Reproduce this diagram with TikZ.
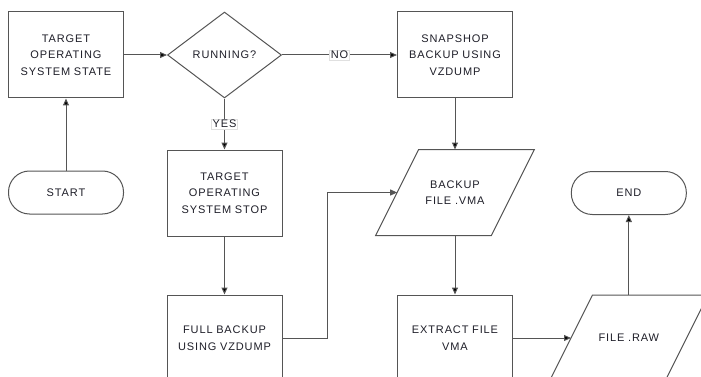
\documentclass[tikz,border=0pt]{standalone}
\usepackage{fontspec}
\setmainfont{Liberation Sans}
\usetikzlibrary{arrows.meta,positioning,shapes.geometric}

\definecolor{flowline}{RGB}{85,85,85}
\definecolor{flowtext}{RGB}{30,30,40}
\newcommand{\flowfont}{\fontsize{11}{16.5}\selectfont\addfontfeatures{LetterSpace=8}}
% slanted frame round an io node, 21.5pt lean each way
\newcommand{\ioframe}[1]{%
  \draw[io frame] ([xshift=21.5pt]#1.north west) -- ([xshift=21.5pt]#1.north east)
    -- ([xshift=-21.5pt]#1.south east) -- ([xshift=-21.5pt]#1.south west) -- cycle;}

\tikzset{
  shape base/.style={draw=flowline, line width=1pt, text=flowtext, font=\flowfont, align=center},
  process/.style={shape base, rectangle, minimum width=115pt, minimum height=86pt, text width=108pt},
  decision/.style={shape base, diamond, minimum width=114pt, minimum height=86pt, inner sep=0pt},
  io/.style={shape base, draw=none, rectangle, minimum width=114pt, minimum height=85pt, text width=108pt},
  io frame/.style={draw=flowline, line width=1pt, line join=miter},
  terminal/.style={shape base, rectangle, rounded corners=21pt, minimum width=115pt, minimum height=43pt},
  flow/.style={-{Triangle[length=7pt,width=6pt]}, draw=flowline, line width=1pt},
  tag/.style={fill=white, draw=black!12, line width=0.4pt, inner sep=1.2pt, text=flowtext, font=\flowfont}
}

\begin{document}
\begin{tikzpicture}
\useasboundingbox (0,0) rectangle (701pt,-377pt);
\clip (0,0) rectangle (701pt,-377pt);

\node[process] (state) at (66pt,-55pt) {TARGET\\OPERATING\\SYSTEM STATE};
\node[decision, right=43pt of state] (running) {RUNNING?};
\node[process, right=115pt of running] (snapshot) {SNAPSHOP\\BACKUP USING\\VZDUMP};
\node[terminal, below=72pt of state] (start) {START};
\node[process, below=51pt of running] (stop) {TARGET\\OPERATING\\SYSTEM STOP};
\node[process, below=58pt of stop] (fullbackup) {FULL BACKUP\\USING VZDUMP};
\node[io, below=51pt of snapshot] (vma) {BACKUP\\FILE .VMA};
\node[process, below=59pt of vma] (extract) {EXTRACT FILE\\VMA};
\node[io, right=58pt of extract] (raw) {FILE .RAW};
\node[terminal, above=80pt of raw] (end) {END};

\ioframe{vma}
\ioframe{raw}

\path[flow] (start) edge (state)
  (state) edge (running)
  (running) edge node[tag] {NO} (snapshot)
            edge node[tag] {YES} (stop)
  (stop) edge (fullbackup)
  (snapshot) edge (vma)
  (vma) edge (extract)
  (extract) edge (raw)
  (raw) edge (end);

% full backup joins the .vma file from the side
\draw[flow] (fullbackup.east) -- ++(45pt,0) |- (vma.west);
\end{tikzpicture}
\end{document}
